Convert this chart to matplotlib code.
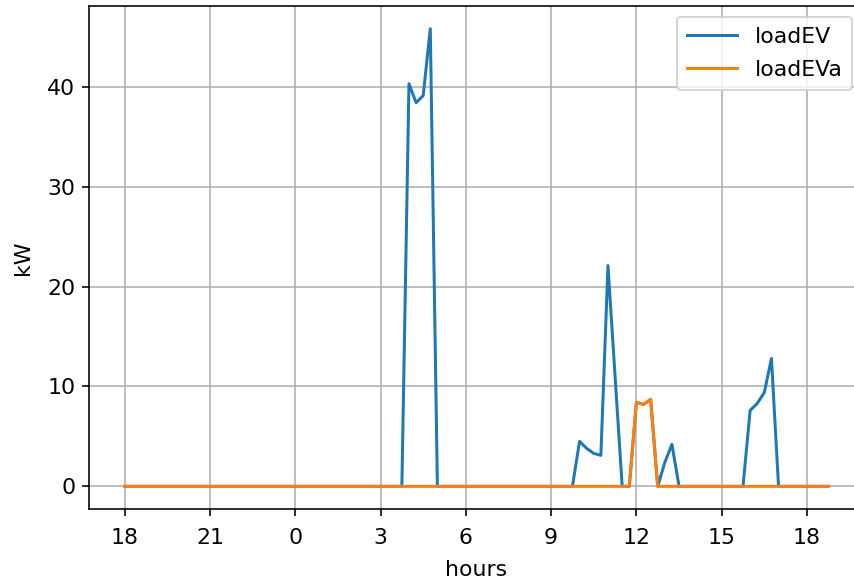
import matplotlib
matplotlib.use('Agg')
import matplotlib.pyplot as plt
import numpy as np

# EV charging load, 15-minute steps starting at 18:00
step_hours = 0.25
loadEV = [
    0, 0, 0, 0, 0, 0, 0, 0, 0, 0,
    0, 0, 0, 0, 0, 0, 0, 0, 0, 0,
    0, 0, 0, 0, 0, 0, 0, 0, 0, 0,
    0, 0, 0, 0, 0, 0, 0, 0, 0, 0,
    40.3, 38.4, 39.1, 45.8, 0, 0, 0, 0, 0, 0,
    0, 0, 0, 0, 0, 0, 0, 0, 0, 0,
    0, 0, 0, 0, 4.5, 3.8, 3.3, 3.1, 22.1, 11.0,
    0, 0, 8.4, 8.2, 8.7, 0, 2.4, 4.2, 0, 0,
    0, 0, 0, 0, 0, 0, 0, 0, 7.6, 8.3,
    9.4, 12.8, 0, 0, 0, 0, 0, 0, 0, 0,
]
loadEVa = [
    0, 0, 0, 0, 0, 0, 0, 0, 0, 0,
    0, 0, 0, 0, 0, 0, 0, 0, 0, 0,
    0, 0, 0, 0, 0, 0, 0, 0, 0, 0,
    0, 0, 0, 0, 0, 0, 0, 0, 0, 0,
    0, 0, 0, 0, 0, 0, 0, 0, 0, 0,
    0, 0, 0, 0, 0, 0, 0, 0, 0, 0,
    0, 0, 0, 0, 0, 0, 0, 0, 0, 0,
    0, 0, 8.4, 8.2, 8.7, 0, 0, 0, 0, 0,
    0, 0, 0, 0, 0, 0, 0, 0, 0, 0,
    0, 0, 0, 0, 0, 0, 0, 0, 0, 0,
]
start_hour = 18
tick_hours = [0, 3, 6, 9, 12, 15, 18, 21, 24]

hours = np.arange(len(loadEV)) * step_hours

plt.rcParams['font.size'] = 11

DPI = 144
fig = plt.figure(figsize=(854 / DPI, 582 / DPI), dpi=DPI)
# right edge of the axes runs slightly past the canvas
ax = fig.add_axes([0.1048, 0.125, 0.9063, 0.865])

ax.plot(hours, loadEV, label='loadEV')
ax.plot(hours, loadEVa, label='loadEVa')

ax.set_xticks(tick_hours)
ax.set_xticklabels([str((start_hour + h) % 24) for h in tick_hours])
ax.tick_params(axis='x', pad=6)
ax.set_xlabel('hours', labelpad=6)
ax.set_ylabel('kW', labelpad=7)
ax.grid(True)
ax.legend(loc='upper right', borderpad=0.45, labelspacing=0.6, handlelength=2.3)

fig.savefig('out.png', dpi=DPI)
